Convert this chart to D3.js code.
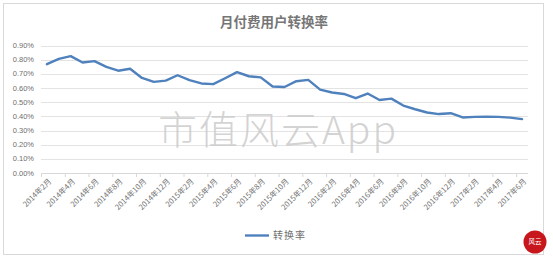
<!DOCTYPE html>
<html><head><meta charset="utf-8">
<script src="https://cdn.jsdelivr.net/npm/d3@7"></script>
<style>
html,body{margin:0;padding:0;background:#fff;}
svg{display:block;font-family:"Noto Sans CJK SC","DejaVu Sans",sans-serif;}
</style></head>
<body><svg id="c" width="553" height="260"></svg>
<script>
const title = "月付费用户转换率";
const seriesName = "转换率";
const watermark = "市值风云App";
const sealText = "风云";
const months = [];
for (let y = 2014; y <= 2017; y++) for (let m = 1; m <= 12; m++) {
  if ((y === 2014 && m < 2) || (y === 2017 && m > 6)) continue;
  months.push(y + "年" + m + "月");
}
const values = [0.768,0.806,0.825,0.780,0.790,0.749,0.722,0.736,0.671,0.643,0.652,0.690,0.655,0.632,0.627,0.669,0.712,0.683,0.675,0.611,0.607,0.648,0.657,0.589,0.568,0.558,0.528,0.561,0.515,0.525,0.476,0.450,0.427,0.416,0.422,0.392,0.396,0.397,0.396,0.391,0.380];
const yTicks = [0,0.1,0.2,0.3,0.4,0.5,0.6,0.7,0.8,0.9];

const svg = d3.select("#c");
const m = {l:41, r:528, t:45.5, b:173};

svg.append("rect").attr("x",3.5).attr("y",3.5).attr("width",540).attr("height",251)
  .attr("fill","#fff").attr("stroke","#d9d9d9").attr("stroke-width",1);

svg.append("text").attr("x",274).attr("y",27).attr("text-anchor","middle")
  .attr("font-size",13.5).attr("font-weight","bold").attr("fill","#767676").text(title);

const x = d3.scaleBand().domain(months).range([m.l, m.r]).padding(0);
const y = d3.scaleLinear().domain([0,0.9]).range([m.b, m.t]);

svg.append("g").selectAll("line").data(yTicks.filter(d=>d>0)).join("line")
  .attr("x1",m.l).attr("x2",m.r).attr("y1",d=>Math.round(y(d))+0.5).attr("y2",d=>Math.round(y(d))+0.5)
  .attr("stroke","#e3e3e3").attr("stroke-width",1);

svg.append("g").selectAll("text").data(yTicks).join("text")
  .attr("x",34).attr("y",d=>y(d)).attr("dy","0.35em").attr("text-anchor","end")
  .attr("font-size",7.5).attr("fill","#6f6f6f").attr("font-family","'Liberation Sans',Arial,sans-serif")
  .text(d=>d.toFixed(2)+"%");

svg.append("line").attr("x1",m.l).attr("x2",m.r).attr("y1",m.b+0.5).attr("y2",m.b+0.5)
  .attr("stroke","#d9d9d9");
const bounds = d3.range(0, months.length+1, 2);
svg.append("g").selectAll("line").data(bounds).join("line")
  .attr("x1",i=>m.l + i*x.step()+0.5).attr("x2",i=>m.l + i*x.step()+0.5)
  .attr("y1",m.b).attr("y2",m.b+4).attr("stroke","#d9d9d9");

svg.append("g").selectAll("text").data(months.filter((d,i)=>i%2===0)).join("text")
  .attr("transform",d=>`translate(${x(d)+x.bandwidth()/2+3},${m.b+7}) rotate(-45)`)
  .attr("text-anchor","end").attr("dy","0.35em")
  .attr("font-size",7.6).attr("fill","#6f6f6f").text(d=>d);

svg.append("text").attr("x",278).attr("y",144).attr("text-anchor","middle")
  .attr("font-size",39).attr("font-weight",300).attr("fill","#cccccc").attr("fill-opacity",0.85)
  .attr("letter-spacing",2).text(watermark);

const line = d3.line().x((d,i)=>x(months[i])+x.bandwidth()/2).y(d=>y(d));
svg.append("path").datum(values).attr("d",line).attr("fill","none")
  .attr("stroke","#4f81bd").attr("stroke-width",2.4).attr("stroke-linejoin","round").attr("stroke-linecap","round");

svg.append("line").attr("x1",245).attr("x2",269).attr("y1",235.5).attr("y2",235.5)
  .attr("stroke","#4f81bd").attr("stroke-width",2.4);
svg.append("text").attr("x",273).attr("y",235.5).attr("dy","0.35em")
  .attr("font-size",10).attr("fill","#6f6f6f").attr("letter-spacing",1).text(seriesName);

svg.append("circle").attr("cx",535).attr("cy",242).attr("r",11.5).attr("fill","#c8161d");
svg.append("text").attr("x",535).attr("y",242).attr("text-anchor","middle").attr("dy","0.35em")
  .attr("font-size",6.5).attr("fill","#fff").text(sealText);
</script></body></html>
